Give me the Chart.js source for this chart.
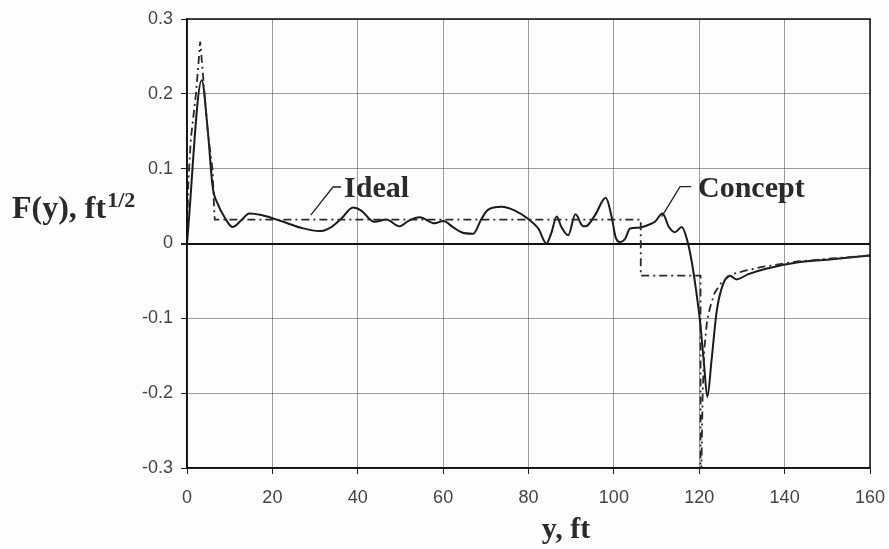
<!DOCTYPE html>
<html>
<head>
<meta charset="utf-8">
<script src="https://cdn.jsdelivr.net/npm/chart.js@4"></script>
<style>
  html, body { margin: 0; padding: 0; background: #fdfdfd; }
  canvas { display: block; }
</style>
</head>
<body>
<canvas id="main-chart" width="889" height="549"></canvas>
<script>
// spanwise station y (ft) and loading F(y) for the concept wing
const conceptY = [0, 3.45, 4.85, 6.0, 7.2, 8.8, 10.7, 12.7, 14.6, 17.4, 22, 26.7, 31, 33.8, 36.1, 38.9, 40.8,
  43.9, 46.7, 49.8, 51.8, 54.5, 58, 60, 62.3, 64.3, 67, 69, 70.5, 73.7, 76.8, 79.9, 82.3, 84.2, 85.4, 86.6,
  87.7, 89.3, 91, 92.6, 93.4, 95.6, 98.1, 99.5, 100.4, 101.4, 102.6, 103.8, 105.7, 107.7, 109.6, 111.4,
  112.9, 114.3, 115.9, 117.1, 118.2, 119.2, 120.2, 121.1, 121.9, 122.9, 124.1, 125.6, 127.2, 128.7, 131.5,
  135.4, 143.2, 151.1, 160]
const conceptF = [0, 0.218, 0.152, 0.076, 0.053, 0.035, 0.022, 0.031, 0.040, 0.038, 0.030, 0.021, 0.0166,
  0.022, 0.033, 0.048, 0.044, 0.029, 0.032, 0.023, 0.030, 0.035, 0.027, 0.030, 0.022, 0.015, 0.013, 0.033,
  0.045, 0.049, 0.044, 0.033, 0.020, 0.000, 0.015, 0.036, 0.022, 0.011, 0.039, 0.024, 0.023, 0.038, 0.061,
  0.035, 0.0085, 0.002, 0.006, 0.020, 0.021, 0.024, 0.029, 0.040, 0.022, 0.015, 0.022, 0.006, -0.023, -0.06,
  -0.105, -0.160, -0.205, -0.155, -0.09, -0.054, -0.043, -0.048, -0.041, -0.034, -0.025, -0.021, -0.016]

// ideal loading, piecewise
const idealY = [0, 0.3, 0.9, 2.1, 3.1, 3.7, 4.85, 6.0, 6.3, 6.5, 106.3, 106.3, 120.3, 120.3, 120.5, 120.8,
  121.2, 121.8, 122.5, 123.6, 125.2, 127.6, 131, 135, 143, 151, 160]
const idealF = [0, 0.08, 0.14, 0.20, 0.27, 0.228, 0.15, 0.098, 0.054, 0.032, 0.032, -0.043, -0.043, -0.34,
  -0.30, -0.20, -0.14, -0.105, -0.086, -0.066, -0.052, -0.041, -0.036, -0.031, -0.024, -0.020, -0.016]

const xTicks = [0, 20, 40, 60, 80, 100, 120, 140, 160]
const yTicks = [-0.3, -0.2, -0.1, 0, 0.1, 0.2, 0.3]

const SERIF = '"Liberation Serif", "Times New Roman", serif'
const INK = '#222'

const toPoints = (xs, ys) => xs.map((x, i) => ({ x: x, y: ys[i] }))

// leader lines + labels, in data units
const callouts = [
  { text: 'Ideal', line: [[29.0, 0.038], [34.2, 0.0755], [36.1, 0.0755]], at: [36.8, 0.062] },
  { text: 'Concept', line: [[111.2, 0.036], [115.5, 0.076], [118.1, 0.076]], at: [119.7, 0.062] }
]

const decorations = {
  id: 'decorations',
  afterDatasetsDraw(chart) {
    const { ctx, chartArea, scales } = chart
    const sx = scales.x
    const sy = scales.y
    ctx.save()
    // frame
    ctx.strokeStyle = '#111'
    ctx.lineWidth = 1.5
    ctx.strokeRect(chartArea.left, chartArea.top, chartArea.right - chartArea.left, chartArea.bottom - chartArea.top)

    ctx.fillStyle = '#2a2a2a'
    ctx.font = 'bold 30px ' + SERIF
    ctx.textBaseline = 'alphabetic'
    callouts.forEach(c => {
      ctx.beginPath()
      ctx.strokeStyle = INK
      ctx.lineWidth = 1.3
      c.line.forEach(([x, y], i) => {
        const px = sx.getPixelForValue(x)
        const py = sy.getPixelForValue(y)
        if (i === 0) ctx.moveTo(px, py)
        else ctx.lineTo(px, py)
      })
      ctx.stroke()
      ctx.textAlign = 'left'
      ctx.fillText(c.text, sx.getPixelForValue(c.at[0]), sy.getPixelForValue(c.at[1]))
    })

    // axis titles
    ctx.textAlign = 'center'
    ctx.fillText('y, ft', 566, 538)

    ctx.textAlign = 'left'
    ctx.font = 'bold 32px ' + SERIF
    const main = 'F(y), ft'
    ctx.fillText(main, 12, 218)
    const w = ctx.measureText(main).width
    ctx.font = 'bold 22px ' + SERIF
    ctx.fillText('1/2', 12 + w + 1, 207)
    ctx.restore()
  }
}

const chart = new Chart(document.getElementById('main-chart').getContext('2d'), {
  type: 'line',
  data: {
    datasets: [
      {
        label: 'Ideal',
        data: toPoints(idealY, idealF),
        borderColor: '#2a2a2a',
        borderWidth: 1.8,
        borderDash: [8, 4, 2, 4],
        pointRadius: 0,
        tension: 0,
        fill: false
      },
      {
        label: 'Concept',
        data: toPoints(conceptY, conceptF),
        borderColor: '#1a1a1a',
        borderWidth: 2,
        pointRadius: 0,
        cubicInterpolationMode: 'monotone',
        fill: false
      }
    ]
  },
  options: {
    responsive: false,
    animation: false,
    layout: { padding: { top: 19, right: 19, left: 0, bottom: 0 } },
    plugins: {
      legend: { display: false },
      tooltip: { enabled: false }
    },
    scales: {
      x: {
        type: 'linear',
        min: 0,
        max: 160,
        afterFit: scale => {
          scale.height = 81
          scale.paddingLeft = 0
          scale.paddingRight = 0
        },
        afterBuildTicks: scale => { scale.ticks = xTicks.map(v => ({ value: v })) },
        grid: {
          color: 'rgba(60,60,60,0.5)',
          lineWidth: 1,
          tickLength: 6,
          tickColor: '#222'
        },
        border: { color: '#111', width: 1.5 },
        ticks: {
          color: '#444',
          font: { family: '"Liberation Sans", Arial, sans-serif', size: 18 },
          padding: 13,
          maxRotation: 0
        }
      },
      y: {
        type: 'linear',
        min: -0.3,
        max: 0.3,
        afterFit: scale => {
          scale.width = 187
          scale.paddingTop = 0
          scale.paddingBottom = 0
        },
        afterBuildTicks: scale => { scale.ticks = yTicks.map(v => ({ value: v })) },
        grid: {
          color: ctx => ctx.tick && ctx.tick.value === 0 ? '#111' : 'rgba(60,60,60,0.5)',
          lineWidth: ctx => ctx.tick && ctx.tick.value === 0 ? 2 : 1,
          tickLength: 6,
          tickColor: '#222'
        },
        border: { color: '#111', width: 1.5 },
        ticks: {
          color: '#444',
          font: { family: '"Liberation Sans", Arial, sans-serif', size: 18 },
          padding: 8,
          callback: v => String(Math.round(v * 10) / 10)
        }
      }
    }
  },
  plugins: [decorations]
})
</script>
</body>
</html>
